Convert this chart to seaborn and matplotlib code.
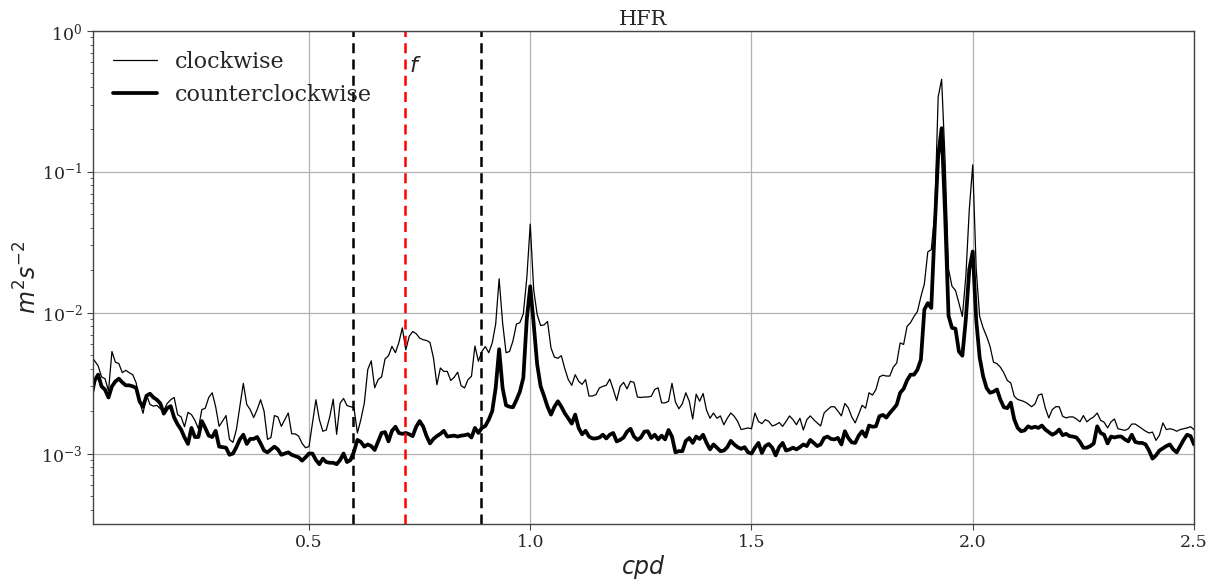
import numpy as np
import pandas as pd
import matplotlib
matplotlib.use("Agg")
import matplotlib.pyplot as plt
import seaborn as sns

# Rotary spectra of HFR surface currents, in units of 1e-3 m^2 s^-2,
# on a 1/128 cpd frequency grid starting at the first non-zero bin.
df_cpd = 1.0 / 128.0

clockwise_e3 = [
    4.9, 4.55, 4.2, 3.5, 3.4, 2.78, 5.3, 4.45, 4.35, 3.75,
    3.9, 3.75, 3.63, 3.18, 2.34, 1.93, 2.62, 2.23, 2.17, 2.2,
    2.08, 2.03, 2.27, 2.41, 2.5, 1.89, 1.82, 1.55, 1.96, 1.89,
    1.72, 1.5, 2.05, 2.1, 2.5, 2.7, 2.15, 1.56, 1.7, 1.86,
    1.26, 1.2, 1.48, 2.15, 3.15, 2.23, 2.05, 1.8, 2.05, 2.41,
    2.0, 1.26, 1.3, 1.86, 1.82, 1.56, 1.74, 1.94, 1.38, 1.38,
    1.33, 1.18, 1.1, 1.12, 1.64, 2.41, 1.74, 1.44, 1.47, 1.82,
    2.43, 1.37, 2.28, 2.46, 2.19, 2.15, 2.12, 1.4, 1.74, 2.28,
    3.95, 4.55, 2.93, 3.35, 3.5, 4.7, 4.95, 5.77, 5.2, 6.15,
    7.8, 5.45, 6.8, 7.35, 7.1, 6.6, 6.43, 6.35, 6.15, 4.78,
    3.08, 4.05, 3.83, 3.83, 3.3, 3.48, 3.78, 3.03, 2.92, 3.35,
    3.53, 5.8, 4.52, 5.3, 5.75, 5.2, 6.1, 8.3, 17.4, 8.5,
    5.2, 5.3, 6.3, 8.3, 8.5, 9.8, 17.6, 42.5, 14.5, 9.7,
    8.1, 8.2, 8.66, 5.62, 4.83, 4.75, 4.95, 4.0, 3.35, 3.05,
    3.63, 3.26, 3.1, 3.35, 2.56, 2.56, 2.62, 2.92, 3.0, 3.05,
    3.38, 2.86, 2.38, 3.0, 3.2, 2.88, 3.26, 3.2, 2.52, 2.5,
    2.52, 2.52, 2.55, 2.85, 2.93, 2.29, 2.29, 2.35, 3.15, 2.32,
    2.08, 2.26, 2.7, 2.35, 1.76, 2.64, 2.35, 2.67, 2.03, 1.78,
    1.94, 1.78, 1.85, 1.6, 1.78, 1.94, 1.84, 1.69, 1.48, 1.5,
    1.52, 1.5, 1.94, 1.69, 1.63, 1.74, 1.69, 1.57, 1.6, 1.66,
    1.56, 1.69, 1.85, 1.74, 1.6, 1.78, 1.47, 1.74, 1.85, 1.74,
    1.65, 1.57, 1.94, 2.05, 2.15, 2.15, 2.0, 1.85, 2.27, 2.11,
    1.82, 1.65, 1.9, 2.2, 2.1, 2.7, 2.6, 2.85, 3.5, 3.6,
    3.55, 3.55, 4.1, 4.39, 6.1, 5.95, 8.0, 8.5, 9.4, 10.2,
    13.0, 16.0, 27.0, 28.0, 50.0, 340.0, 454.0, 120.0, 20.3, 15.4,
    14.4, 11.7, 9.4, 18.1, 54.0, 112.0, 20.3, 9.4, 7.8, 6.8,
    5.77, 4.45, 4.35, 4.1, 3.74, 3.3, 3.17, 2.55, 2.42, 2.38,
    2.33, 2.25, 2.15, 2.25, 2.6, 2.65, 2.1, 1.79, 2.05, 2.15,
    2.15, 1.84, 1.79, 1.82, 1.82, 1.76, 1.68, 1.86, 1.68, 1.76,
    1.82, 1.94, 1.72, 1.67, 1.52, 1.68, 1.76, 1.5, 1.48, 1.46,
    1.5, 1.62, 1.62, 1.56, 1.5, 1.44, 1.4, 1.42, 1.24, 1.35,
    1.65, 1.48, 1.5, 1.48, 1.44, 1.48, 1.5, 1.52, 1.55, 1.48,
]

counterclockwise_e3 = [
    2.5, 3.3, 3.63, 3.0, 2.84, 2.5, 3.0, 3.25, 3.4, 3.2,
    3.05, 3.05, 3.0, 2.93, 2.34, 2.15, 2.57, 2.66, 2.5, 2.41,
    2.27, 1.92, 2.1, 2.17, 1.8, 1.61, 1.48, 1.3, 1.17, 1.52,
    1.31, 1.31, 1.7, 1.52, 1.34, 1.31, 1.45, 1.12, 1.11, 1.1,
    0.98, 1.0, 1.11, 1.26, 1.36, 1.17, 1.27, 1.27, 1.31, 1.18,
    1.05, 1.02, 1.07, 1.12, 1.07, 0.98, 1.0, 1.02, 0.98, 0.96,
    0.94, 0.89, 0.94, 1.0, 1.0, 0.9, 0.84, 0.92, 0.87, 0.86,
    0.86, 0.84, 0.9, 1.0, 0.87, 0.9, 1.03, 1.25, 1.21, 1.12,
    1.16, 1.13, 1.06, 1.22, 1.4, 1.42, 1.22, 1.45, 1.55, 1.4,
    1.38, 1.4, 1.37, 1.33, 1.55, 1.7, 1.56, 1.33, 1.18, 1.27,
    1.33, 1.38, 1.45, 1.32, 1.33, 1.34, 1.32, 1.34, 1.35, 1.37,
    1.3, 1.52, 1.4, 1.52, 1.57, 1.74, 2.0, 2.92, 5.5, 2.92,
    2.2, 2.15, 2.13, 2.4, 2.75, 3.45, 9.0, 15.4, 8.3, 4.3,
    3.0, 2.56, 2.15, 1.89, 2.15, 2.35, 2.15, 1.93, 1.78, 1.63,
    1.89, 1.52, 1.37, 1.45, 1.32, 1.28, 1.28, 1.3, 1.36, 1.28,
    1.36, 1.4, 1.22, 1.25, 1.3, 1.43, 1.5, 1.32, 1.25, 1.3,
    1.43, 1.44, 1.29, 1.36, 1.26, 1.34, 1.26, 1.47, 1.32, 1.02,
    1.04, 1.04, 1.23, 1.29, 1.19, 1.32, 1.27, 1.36, 1.19, 1.07,
    1.16, 1.1, 1.04, 1.05, 1.11, 1.23, 1.16, 1.11, 1.08, 1.11,
    1.02, 1.0, 1.1, 1.19, 1.01, 1.13, 1.17, 1.1, 0.97, 1.11,
    1.19, 1.05, 1.07, 1.1, 1.07, 1.11, 1.16, 1.13, 1.25, 1.19,
    1.13, 1.16, 1.29, 1.32, 1.27, 1.26, 1.29, 1.16, 1.44, 1.29,
    1.2, 1.19, 1.34, 1.44, 1.32, 1.58, 1.55, 1.56, 1.84, 1.88,
    1.8, 1.94, 2.07, 2.22, 2.7, 2.88, 3.31, 3.63, 3.63, 3.94,
    4.64, 10.5, 11.7, 10.8, 40.0, 130.0, 204.0, 50.0, 9.5, 7.8,
    7.7, 5.3, 4.95, 9.0, 20.3, 27.2, 8.9, 4.8, 3.54, 2.92,
    2.7, 2.75, 2.85, 2.41, 2.13, 2.1, 2.3, 1.75, 1.52, 1.44,
    1.46, 1.56, 1.52, 1.55, 1.52, 1.58, 1.48, 1.42, 1.36, 1.4,
    1.48, 1.35, 1.38, 1.33, 1.32, 1.3, 1.21, 1.1, 1.1, 1.13,
    1.18, 1.56, 1.4, 1.36, 1.18, 1.32, 1.3, 1.32, 1.32, 1.26,
    1.22, 1.36, 1.21, 1.19, 1.19, 1.16, 1.05, 0.92, 0.97, 1.05,
    1.09, 1.13, 1.16, 1.07, 1.02, 1.13, 1.25, 1.36, 1.33, 1.16,
]

band_edges_cpd = [0.6, 0.889]
inertial_cpd = 0.717
x_ticks = [0.5, 1.0, 1.5, 2.0, 2.5]

freq = np.arange(1, len(clockwise_e3) + 1) * df_cpd
data = pd.DataFrame({
    "cpd": np.concatenate([freq, freq]),
    "psd": np.concatenate([np.array(clockwise_e3), np.array(counterclockwise_e3)]) * 1e-3,
    "rotation": ["clockwise"] * len(freq) + ["counterclockwise"] * len(freq),
})

sns.set_style("ticks")
plt.rcParams["font.family"] = ["DejaVu Serif"]
plt.rcParams["mathtext.fontset"] = "dejavusans"

fig, ax = plt.subplots(figsize=(12.26, 5.80), dpi=100)
fig.subplots_adjust(left=0.0759, right=0.9739, top=0.9466, bottom=0.0966)

sns.lineplot(data=data, x="cpd", y="psd", hue="rotation", size="rotation",
             sizes={"clockwise": 0.9, "counterclockwise": 2.7},
             palette={"clockwise": "black", "counterclockwise": "black"},
             ax=ax, legend=True)

ax.set_yscale("log")
ax.set_ylim(10 ** -3.5, 1.0)
ax.set_xlim(0.012, 2.5)
ax.set_xticks(x_ticks)
ax.set_xticklabels([f"{t:.1f}" for t in x_ticks])

for xe in band_edges_cpd:
    ax.axvline(xe, color="black", ls="--", lw=1.8, dashes=(4, 2.5))
ax.axvline(inertial_cpd, color="red", ls="--", lw=1.8, dashes=(4, 2.5))
ax.text(inertial_cpd + 0.009, 0.56, "$f$", fontsize=16, va="center", ha="left")

ax.grid(True, which="major", color="#b0b0b0", lw=0.9)
ax.set_axisbelow(True)
for sp in ax.spines.values():
    sp.set_color("#444444")
    sp.set_linewidth(1.0)

ax.tick_params(axis="both", which="major", labelsize=12.5, length=4, color="#444444")
ax.tick_params(axis="y", which="minor", length=2.5, color="#444444")

ax.set_xlabel("$cpd$", fontsize=17, labelpad=1)
ax.set_ylabel("$m^2s^{-2}$", fontsize=17, labelpad=0)
ax.set_title("HFR", fontsize=15, pad=4)

handles, labels = ax.get_legend_handles_labels()
keep = [(h, l) for h, l in zip(handles, labels) if l in ("clockwise", "counterclockwise")]
ax.legend([h for h, _ in keep], [l for _, l in keep], loc="upper left",
          frameon=False, fontsize=16, handlelength=2.0,
          bbox_to_anchor=(0.0, 1.0))

fig.savefig("out.png", dpi=100)
